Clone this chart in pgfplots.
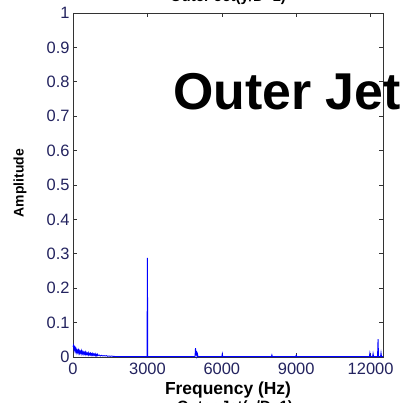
\documentclass[border=0pt]{standalone}
\usepackage{pgfplots}
\pgfplotsset{compat=1.18}
\usepackage{fontspec}
\setmainfont{Liberation Sans}
\definecolor{ticknavy}{RGB}{35,35,95}
\definecolor{mblue}{RGB}{0,0,255}
\begin{document}
\begin{tikzpicture}[x=1bp,y=1bp]
\begin{axis}[
  at={(0bp,0bp)}, anchor=origin,
  scale only axis, width=310bp, height=344bp,
  xmin=0, xmax=12500, ymin=0, ymax=1,
  xtick={0,3000,6000,9000,12000},
  ytick={0,0.1,0.2,0.3,0.4,0.5,0.6,0.7,0.8,0.9,1},
  yticklabels={0,0.1,0.2,0.3,0.4,0.5,0.6,0.7,0.8,0.9,1},
  scaled x ticks=false,
  /pgf/number format/set thousands separator={},
  /pgf/number format/assume math mode=true,
  tick align=inside, major tick length=4bp,
  tick style={black!80, line width=0.6bp},
  axis line style={black!80, line width=0.8bp},
  ticklabel style={font=\fontsize{16.5}{16.5}\selectfont, text=ticknavy},
  xticklabel style={yshift=-3bp},
  yticklabel style={xshift=0bp},
  xlabel={\textbf{Frequency (Hz)}},
  xlabel style={font=\fontsize{17.5}{17.5}\selectfont, at={(axis description cs:0.5,0)}, anchor=center, yshift=-33bp},
  clip=false,
]
\addplot[mblue, line width=0.9bp] coordinates {
(0,0.030) (20,0.034) (40,0.022) (60,0.028) (80,0.018) (100,0.025) (120,0.015) (140,0.021)
(160,0.012) (180,0.019) (200,0.014) (220,0.020) (240,0.011) (260,0.017) (280,0.010) (300,0.016)
(320,0.012) (340,0.018) (360,0.009) (380,0.015) (400,0.010) (420,0.014) (440,0.008) (460,0.013)
(480,0.009) (500,0.014) (520,0.007) (540,0.012) (560,0.008) (580,0.011) (600,0.007) (620,0.012)
(640,0.006) (660,0.010) (680,0.007) (700,0.011) (720,0.006) (740,0.009) (760,0.005) (780,0.010)
(800,0.006) (820,0.009) (840,0.005) (860,0.008) (880,0.005) (900,0.009) (920,0.004) (940,0.007)
(960,0.004) (980,0.008) (1000,0.004) (1050,0.006) (1100,0.003) (1150,0.005) (1200,0.003)
(1250,0.004) (1300,0.003) (1350,0.004) (1400,0.002) (1450,0.003) (1500,0.002) (1550,0.003)
(1600,0.002) (1700,0.0015) (2000,0.001) (2500,0.001) (2985,0.001) (3000,0.288) (3015,0.001)
(4000,0.001) (4920,0.001) (4940,0.026) (4960,0.005) (4980,0.018) (5000,0.002) (5020,0.008)
(5040,0.001) (6000,0.001) (6020,0.009) (6040,0.001) (8000,0.001) (8020,0.006) (8040,0.001)
(8980,0.001) (9000,0.005) (9020,0.001) (11950,0.001) (11970,0.011) (11990,0.002) (12080,0.001)
(12100,0.010) (12120,0.001) (12280,0.001) (12300,0.052) (12320,0.001) (12400,0.001)
(12420,0.012) (12440,0.001) (12500,0.001)
};
\end{axis}
\node[rotate=90, anchor=center, inner sep=0pt, font=\fontsize{14}{14}\selectfont\bfseries] at (-53bp,174bp) {Amplitude};
\node[anchor=base west, inner sep=0pt, font=\fontsize{52}{52}\selectfont\bfseries] at (100bp,247bp) {Outer Jet};
\node[anchor=south, inner sep=0pt, font=\fontsize{15}{15}\selectfont\bfseries] at (155bp,352bp) {Outer Jet(y/D=1)};
\node[anchor=north, inner sep=0pt, font=\fontsize{15}{15}\selectfont\bfseries] at (162bp,-43bp) {Outer Jet(y/D=1)};
\pgfresetboundingbox
\useasboundingbox (-73bp,-46bp) rectangle (334bp,357bp);
\end{tikzpicture}
\end{document}
